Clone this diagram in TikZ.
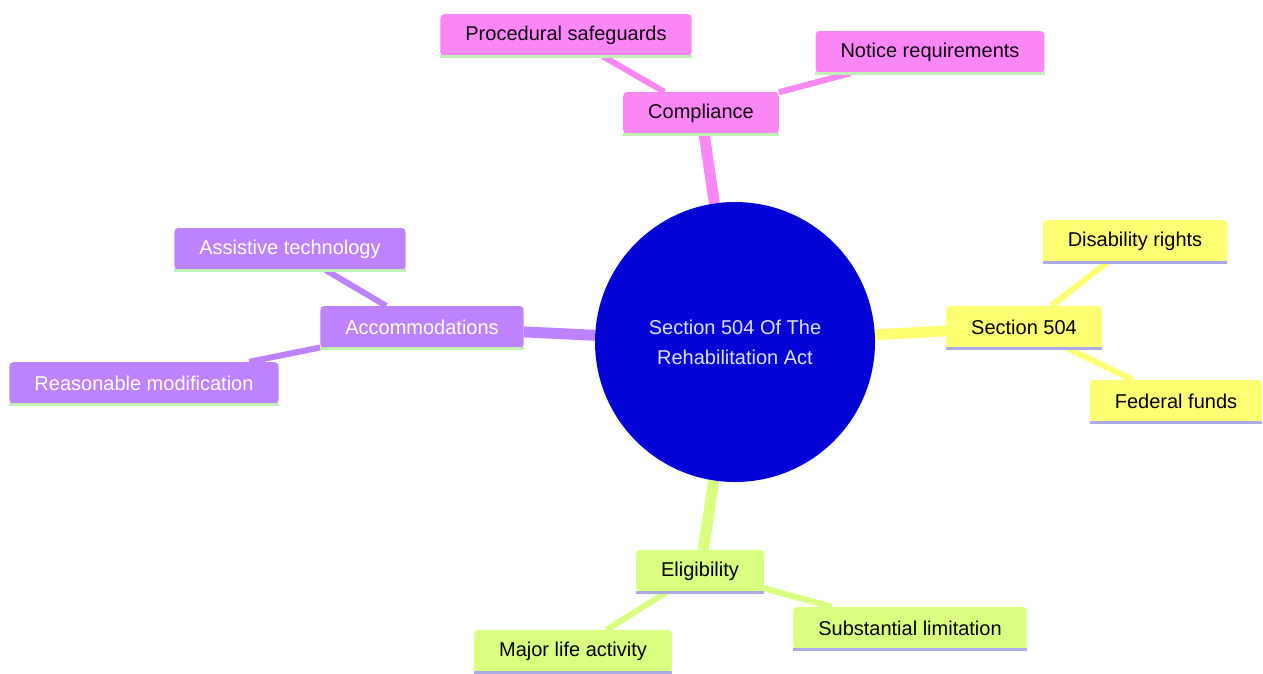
\documentclass[tikz,border=0pt]{standalone}
\usepackage{fontspec}
\setmainfont{Liberation Sans}
\usetikzlibrary{backgrounds}
\definecolor{cpink}{RGB}{250,135,245}
\definecolor{cyellow}{RGB}{255,255,115}
\definecolor{clime}{RGB}{218,255,128}
\definecolor{cpurple}{RGB}{190,130,255}
\definecolor{croot}{RGB}{4,4,214}
\definecolor{lgreen}{RGB}{192,240,182}
\definecolor{lviolet}{RGB}{172,170,228}
\begin{document}
\begin{tikzpicture}[x=1pt,y=-1pt,
  box/.style={rectangle, rounded corners=4pt, inner xsep=25pt, inner ysep=0pt, minimum height=42pt, font=\fontsize{20}{24}\selectfont},
  trunk/.style={line width=11pt},
  twig/.style={line width=6pt},
  uline/.style={line width=3pt}]
\useasboundingbox (0,0) rectangle (1263,673);
% root
\node[circle, fill=croot, minimum size=280pt, inner sep=0pt, text=white!88!blue, align=center, font=\fontsize{20}{30}\selectfont] (root) at (735,342) {Section 504 Of The\\Rehabilitation Act};
% compliance
\node[box, fill=cpink, text=black!90!violet] (comp) at (701,113) {Compliance};
\node[box, fill=cpink, text=black!90!violet] (proc) at (566,35) {Procedural safeguards};
\node[box, fill=cpink, text=black!90!violet] (noti) at (930,52) {Notice requirements};
% section 504
\node[box, fill=cyellow, text=black] (sect) at (1024,327) {Section 504};
\node[box, fill=cyellow, text=black] (disa) at (1135,241) {Disability rights};
\node[box, fill=cyellow, text=black] (fede) at (1176,401) {Federal funds};
% eligibility
\node[box, fill=clime, text=black] (elig) at (700,571) {Eligibility};
\node[box, fill=clime, text=black] (majo) at (573,651) {Major life activity};
\node[box, fill=clime, text=black] (subs) at (910,628) {Substantial limitation};
% accommodations
\node[box, fill=cpurple, text=white] (acco) at (422,327) {Accommodations};
\node[box, fill=cpurple, text=white] (assi) at (290,249) {Assistive technology};
\node[box, fill=cpurple, text=white] (reas) at (144,383) {Reasonable modification};
% underlines
\foreach \n/\c in {comp/lgreen, proc/lgreen, noti/lgreen, sect/lviolet, disa/lviolet, fede/lviolet, elig/lviolet, majo/lviolet, subs/lviolet, acco/lgreen, assi/lgreen, reas/lgreen}
  \draw[uline, \c] (\n.south west) -- (\n.south east);
\begin{pgfonlayer}{background}
\draw[trunk, cpink](root) -- (comp);
\draw[twig, cpink](comp) -- (proc);
\draw[twig, cpink](comp) -- (noti);
\draw[trunk, cyellow](root) -- (sect);
\draw[twig, cyellow](sect) -- (disa);
\draw[twig, cyellow](sect) -- (fede);
\draw[trunk, clime](root) -- (elig);
\draw[twig, clime](elig) -- (majo);
\draw[twig, clime](elig) -- (subs);
\draw[trunk, cpurple](root) -- (acco);
\draw[twig, cpurple](acco) -- (assi);
\draw[twig, cpurple](acco) -- (reas);
\end{pgfonlayer}
\end{tikzpicture}
\end{document}
